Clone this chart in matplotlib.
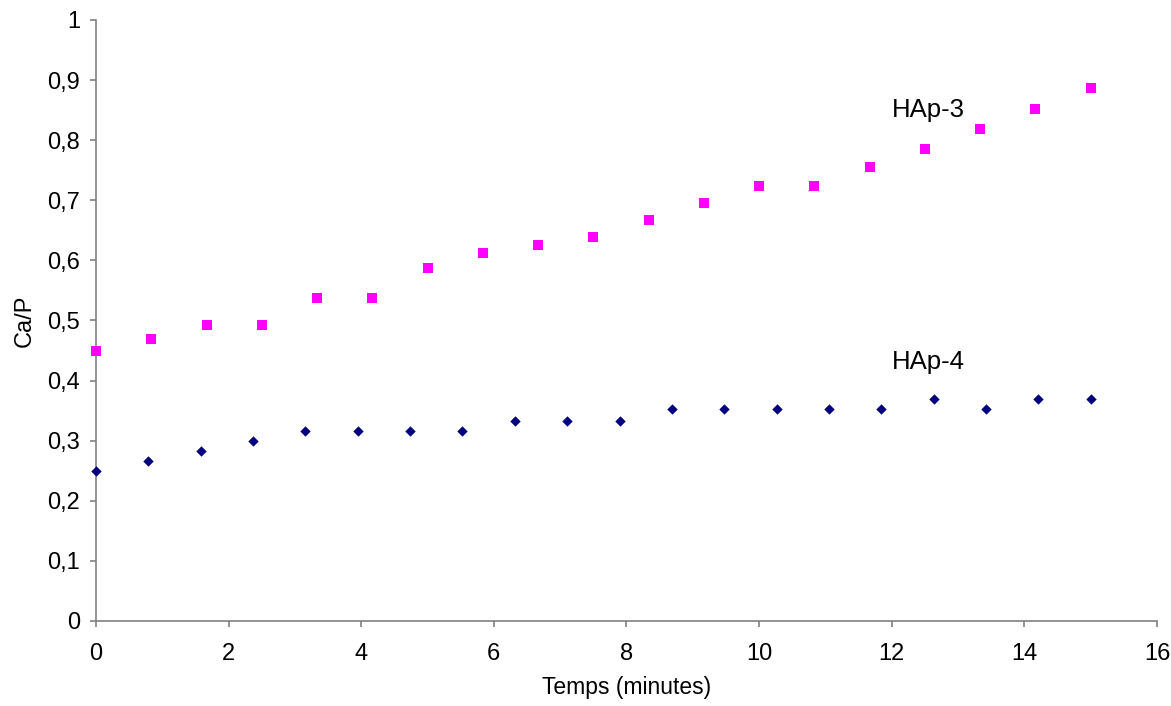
import matplotlib
matplotlib.use("Agg")
import matplotlib.pyplot as plt
from matplotlib.ticker import FuncFormatter

plt.rcParams['font.family'] = ['Liberation Sans', 'DejaVu Sans']

hap3_x = [i * 15 / 18 for i in range(19)]
hap3_y = [0.45, 0.47, 0.493, 0.493, 0.538, 0.538, 0.587, 0.613, 0.626, 0.639,
          0.667, 0.695, 0.724, 0.724, 0.755, 0.786, 0.818, 0.852, 0.887]
hap4_x = [i * 15 / 19 for i in range(20)]
hap4_y = [0.25, 0.266, 0.283, 0.3, 0.316, 0.316, 0.316, 0.316, 0.333, 0.333,
          0.333, 0.352, 0.352, 0.352, 0.352, 0.352, 0.37, 0.352, 0.37, 0.37]
x_ticks = [0, 2, 4, 6, 8, 10, 12, 14, 16]
y_ticks = [0, 0.1, 0.2, 0.3, 0.4, 0.5, 0.6, 0.7, 0.8, 0.9, 1]

fig = plt.figure(figsize=(11.71, 7.06), dpi=100)
ax = fig.add_axes([0.082, 0.1204, 0.906, 0.8513])
ax.scatter(hap3_x, hap3_y, marker='s', s=55, color='#ff00ff', linewidths=0, clip_on=False, zorder=3)
ax.scatter(hap4_x, hap4_y, marker='D', s=28, color='#000080', linewidths=0, clip_on=False, zorder=3)

ax.set_xlim(0, 16)
ax.set_ylim(0, 1)
ax.set_xticks(x_ticks)
ax.set_yticks(y_ticks)
ax.yaxis.set_major_formatter(FuncFormatter(lambda v, p: ('%g' % round(v, 1)).replace('.', ',')))
ax.tick_params(direction='out', length=4.5, width=1.2, color='#808080', labelsize=17)
ax.tick_params(axis='y', pad=7)
ax.tick_params(axis='x', pad=11)
for s in ['top', 'right']:
    ax.spines[s].set_visible(False)
for s in ['left', 'bottom']:
    ax.spines[s].set_color('#808080')
    ax.spines[s].set_linewidth(1.2)

ax.text(12.55, 0.85, 'HAp-3', fontsize=18.5, ha='center', va='center')
ax.text(12.55, 0.431, 'HAp-4', fontsize=18.5, ha='center', va='center')
ax.set_xlabel('Temps (minutes)', fontsize=16.5, labelpad=8)
ax.set_ylabel('Ca/P', fontsize=17, labelpad=8)

fig.savefig('out.png', dpi=100)
